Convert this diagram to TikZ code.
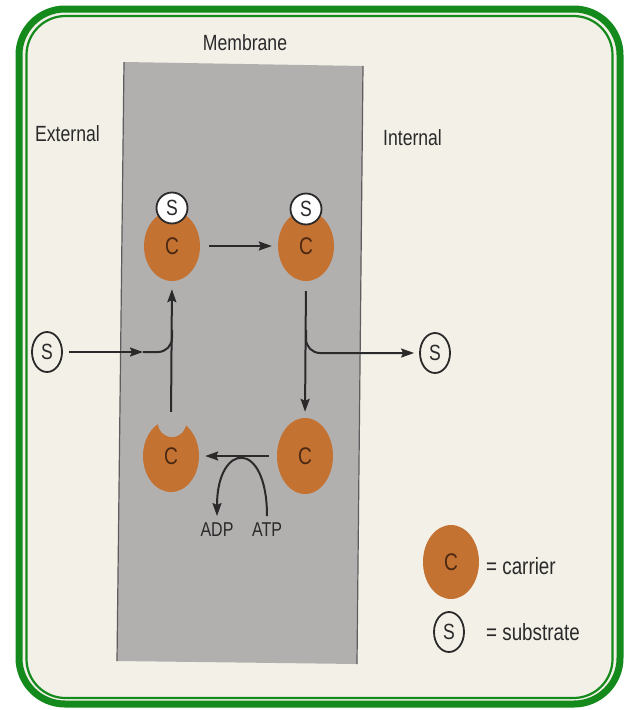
\documentclass[tikz,border=0pt]{standalone}
\usepackage{fontspec}
\setmainfont{Liberation Sans}[FakeStretch=0.8]
\usepackage{tikz}
\usetikzlibrary{arrows.meta,shapes.geometric,calc}
\definecolor{cellGreen}{HTML}{138A1B}
\definecolor{cellPaper}{HTML}{F3F0E8}
\definecolor{cellMembrane}{HTML}{B2AFAF}
\definecolor{cellEdge}{HTML}{5E5C5E}
\definecolor{cellCarrier}{HTML}{C47232}
\definecolor{cellCarrierInk}{HTML}{4A2812}
\definecolor{cellInk}{HTML}{2A2A2A}
\tikzset{
  carrier/.style={ellipse,fill=cellCarrier,minimum width=56pt,minimum height=70pt,
    inner sep=0pt,text=cellCarrierInk,font=\fontsize{24}{26}\selectfont},
  bound/.style={circle,draw=cellInk,line width=1.8pt,fill=white,minimum size=31pt,
    inner sep=0pt,text=cellInk,font=\fontsize{22}{24}\selectfont},
  free/.style={ellipse,draw=cellInk,line width=1.8pt,minimum width=30pt,
    minimum height=40pt,inner sep=0pt,text=cellInk,font=\fontsize{22}{24}\selectfont},
  tag/.style={text=cellInk,font=\fontsize{22}{24}\selectfont,inner sep=0pt},
  flow/.style={-{Stealth[length=13pt,width=9pt,inset=2pt]},line width=2pt,cellInk},
  wire/.style={line width=2pt,cellInk}
}

\begin{document}
\begin{tikzpicture}[x=1pt,y=-1pt]
  \useasboundingbox (0,0) rectangle (626,710);
  % paper and green frame
  \fill[white] (0,0) rectangle (626,710);
  \fill[cellPaper,rounded corners=46pt] (19,9) rectangle (620,704);
  \draw[cellGreen,line width=7pt,rounded corners=46pt] (19,9) rectangle (620,704);
  \draw[cellGreen,line width=2.2pt,rounded corners=39pt] (26.5,16) rectangle (612.5,698);
  % membrane
  \fill[cellMembrane] (124,62) -- (363,66) -- (357,664) -- (117,661) -- cycle;
  \draw[cellEdge,line width=1.2pt] (124,62) -- (117,661) (363,66) -- (357,664);
  \node[tag,anchor=base] (mem) at (245,50) {Membrane};
  \node[tag,anchor=base west] (ext) at (35,141) {External};
  \node[tag,anchor=base west] (int) at (383,145) {Internal};

  % carriers around the cycle
  \node[carrier] (c1) at (172,246) {C};
  \node[carrier] (c2) at (306,246) {C};
  \node[carrier,minimum height=76pt] (c3) at (305,456) {C};
  \node[carrier,minimum height=72pt] (c4) at (171,456) {C};
  \fill[cellMembrane] (172,423) circle[radius=14pt];
  \node[bound] (s1) at (172,208) {S};
  \node[bound] (s2) at (306,209) {S};
  \node[free] (sin) at (47,352) {S};
  \node[free] (sout) at (435,353) {S};
  \node[tag,anchor=base,font=\fontsize{20}{22}\selectfont] (adp) at (217,536) {ADP};
  \node[tag,anchor=base,font=\fontsize{20}{22}\selectfont] (atp) at (267,536) {ATP};

  \coordinate (jl) at (172,330);
  \coordinate (tipin) at (143,352);
  \coordinate (jr) at (306,330);

  \draw[flow,shorten <=9pt,shorten >=6pt] (c1.east) -- (c2.west);
  \draw[flow,shorten <=10pt,shorten >=6pt] (c2.south) -- (c3.north);
  \draw[flow,shorten <=8pt,shorten >=6pt] (c3.west) -- (c4.east);
  \draw[flow,shorten <=8pt,shorten >=8pt] (c4.north) -- (c1.south);
  \draw[flow,shorten <=6pt] (sin) -- (tipin);
  \draw[wire,rounded corners=14pt] (tipin) -| (jl);
  \draw[flow,rounded corners=14pt,shorten >=5pt] (jr) |- (sout);
  \draw[flow,shorten <=6pt,shorten >=6pt] (atp.north) .. controls +(0,-84) and +(0,-80) .. (adp.north);

  % key
  \node[carrier,minimum height=74pt] (keyc) at (451,562) {C};
  \node[free,minimum height=40pt] (keys) at (449,632) {S};
  \node[tag,anchor=base west,font=\fontsize{23.5}{26}\selectfont] (keyct) at (486,574) {= carrier};
  \node[tag,anchor=base west,font=\fontsize{23.5}{26}\selectfont] (keyst) at (486,640) {= substrate};
\end{tikzpicture}
\end{document}
